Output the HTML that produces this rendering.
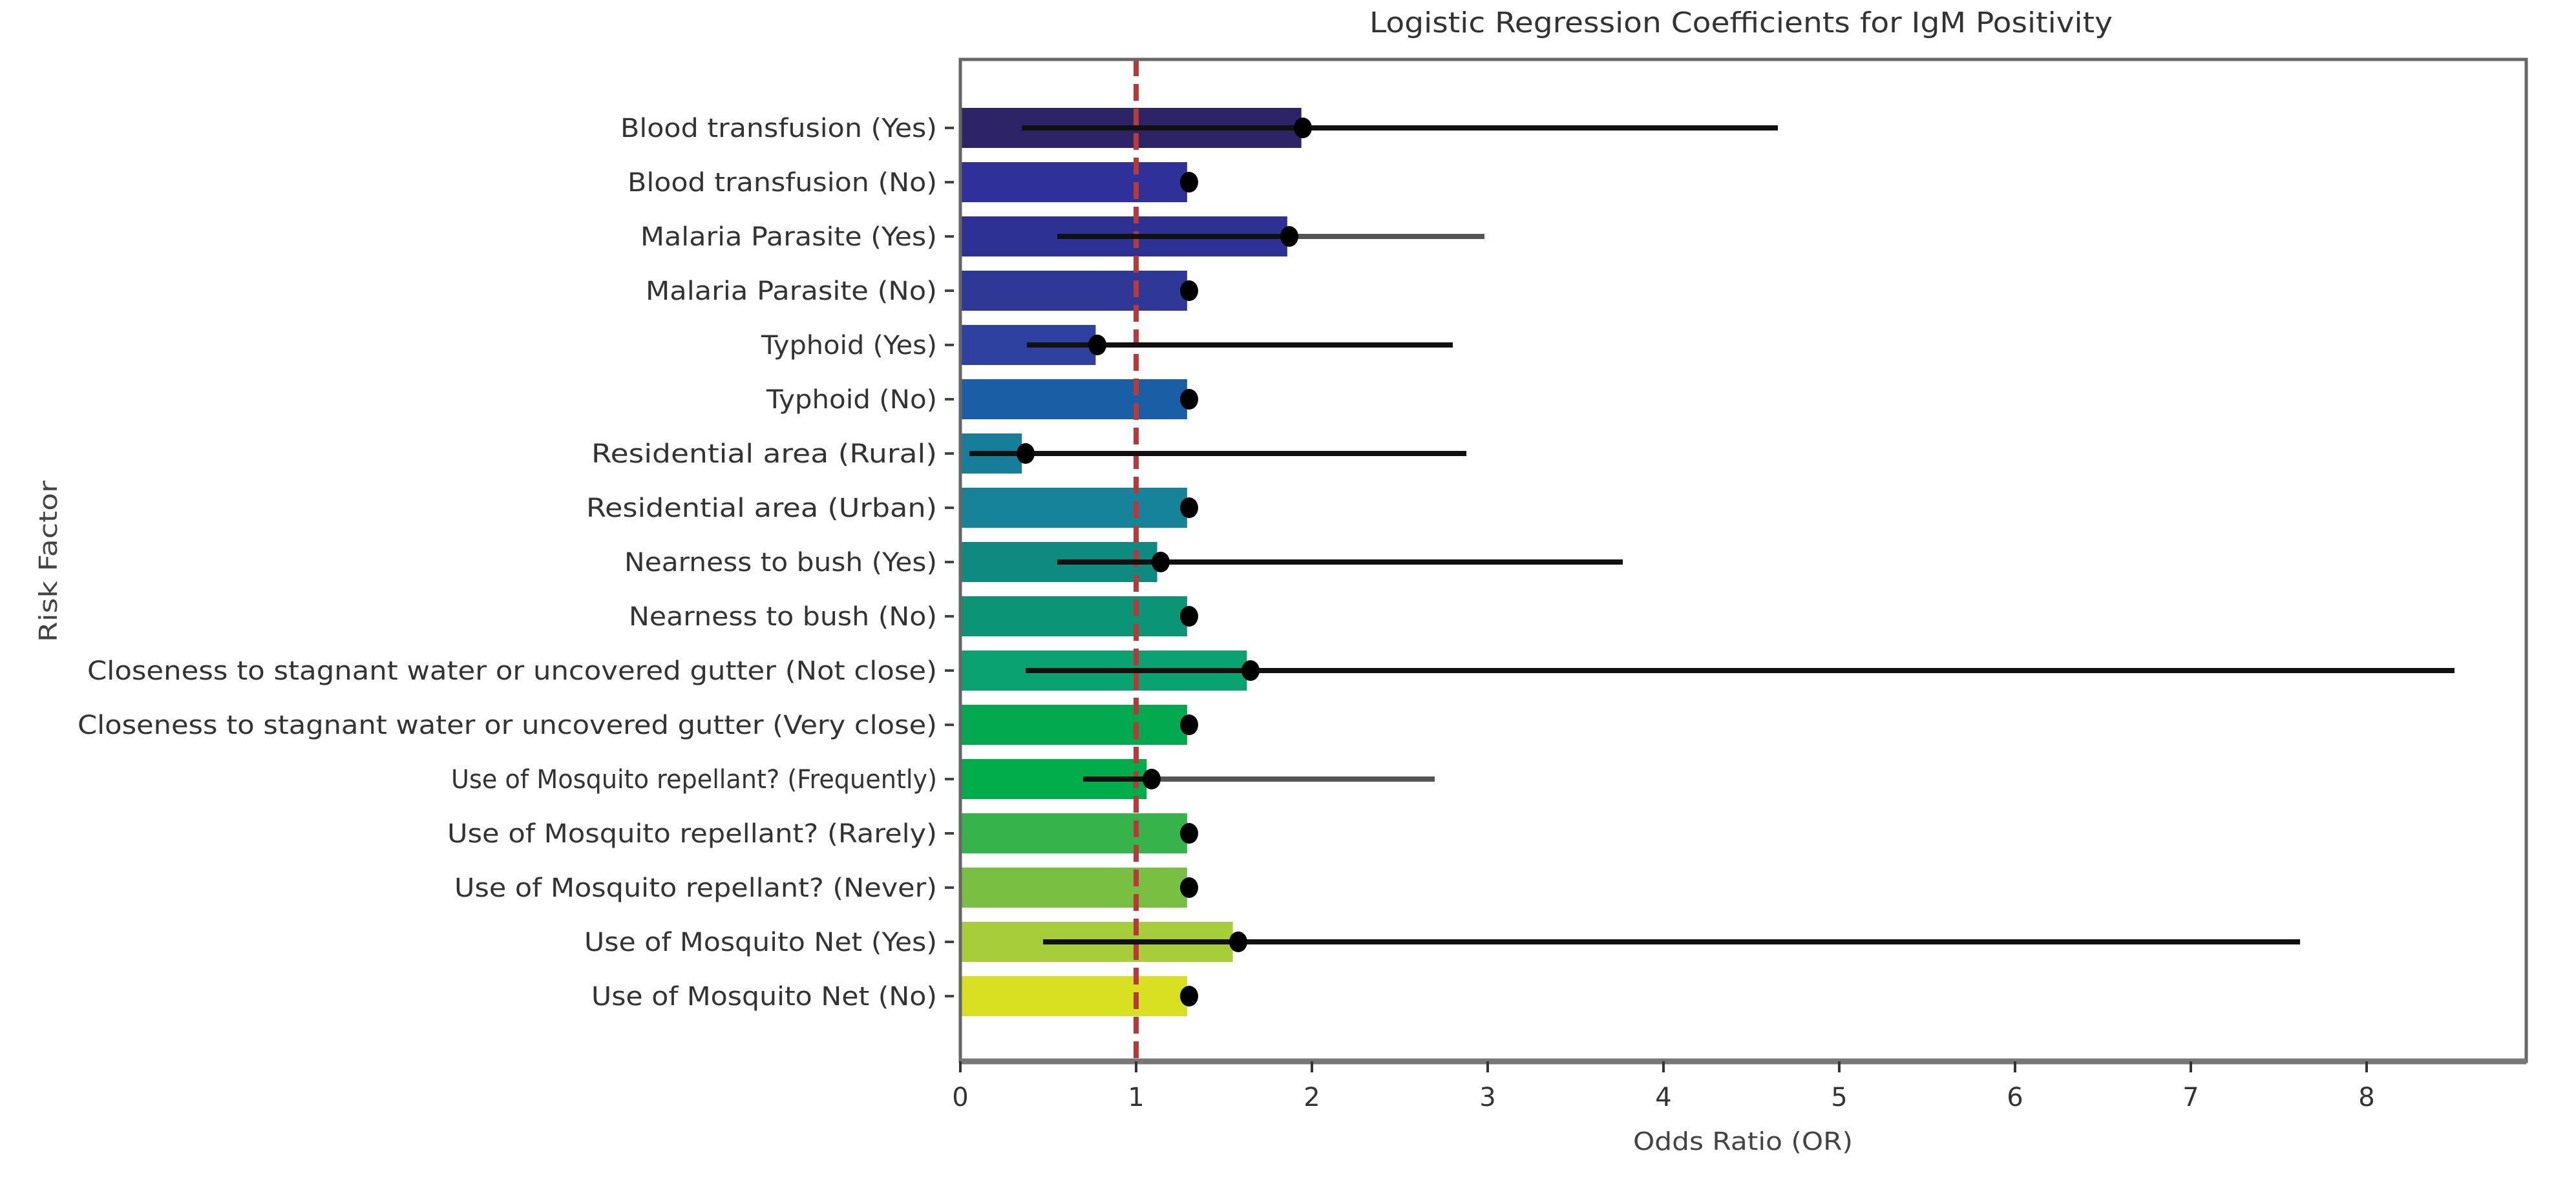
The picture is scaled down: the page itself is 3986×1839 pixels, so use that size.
<!DOCTYPE html>
<html><head><meta charset="utf-8"><style>html,body{margin:0;padding:0;background:#fff}</style></head>
<body>
<svg width="3986" height="1834" viewBox="0 0 3986 1834" xmlns="http://www.w3.org/2000/svg" font-family="'DejaVu Sans','Liberation Sans',sans-serif">
<rect width="3986" height="1834" fill="#fff"/>
<text x="2694" y="50" font-size="44" text-anchor="middle" fill="#333" textLength="1150" lengthAdjust="spacingAndGlyphs">Logistic Regression Coefficients for IgM Positivity</text>
<g>
<rect x="1486" y="167" width="527.7" height="62" fill="#2c2466"/>
<rect x="1486" y="251" width="350.9" height="62" fill="#30309a"/>
<rect x="1486" y="335" width="505.9" height="62" fill="#2e3194"/>
<rect x="1486" y="419" width="350.9" height="62" fill="#2f3797"/>
<rect x="1486" y="503" width="209.4" height="62" fill="#2e41a0"/>
<rect x="1486" y="587" width="350.9" height="62" fill="#1a5fa5"/>
<rect x="1486" y="671" width="95.2" height="62" fill="#177e9a"/>
<rect x="1486" y="755" width="350.9" height="62" fill="#16839a"/>
<rect x="1486" y="839" width="304.6" height="62" fill="#0f8a80"/>
<rect x="1486" y="923" width="350.9" height="62" fill="#0b9475"/>
<rect x="1486" y="1007" width="443.4" height="62" fill="#0aa270"/>
<rect x="1486" y="1091" width="350.9" height="62" fill="#03a94f"/>
<rect x="1486" y="1175" width="288.3" height="62" fill="#00ad4a"/>
<rect x="1486" y="1259" width="350.9" height="62" fill="#36b34a"/>
<rect x="1486" y="1343" width="350.9" height="62" fill="#79c042"/>
<rect x="1486" y="1427" width="421.6" height="62" fill="#a8cd3a"/>
<rect x="1486" y="1511" width="350.9" height="62" fill="#d8e021"/>
</g>
<g font-size="40" text-anchor="end" fill="#333">
<text x="1450" y="212" textLength="490" lengthAdjust="spacingAndGlyphs">Blood transfusion (Yes)</text>
<text x="1450" y="296" textLength="479" lengthAdjust="spacingAndGlyphs">Blood transfusion (No)</text>
<text x="1450" y="380" textLength="459" lengthAdjust="spacingAndGlyphs">Malaria Parasite (Yes)</text>
<text x="1450" y="464" textLength="451" lengthAdjust="spacingAndGlyphs">Malaria Parasite (No)</text>
<text x="1450" y="548" textLength="272" lengthAdjust="spacingAndGlyphs">Typhoid (Yes)</text>
<text x="1450" y="632" textLength="264" lengthAdjust="spacingAndGlyphs">Typhoid (No)</text>
<text x="1450" y="716" textLength="535" lengthAdjust="spacingAndGlyphs">Residential area (Rural)</text>
<text x="1450" y="800" textLength="543" lengthAdjust="spacingAndGlyphs">Residential area (Urban)</text>
<text x="1450" y="884" textLength="484" lengthAdjust="spacingAndGlyphs">Nearness to bush (Yes)</text>
<text x="1450" y="968" textLength="477" lengthAdjust="spacingAndGlyphs">Nearness to bush (No)</text>
<text x="1450" y="1052" textLength="1315" lengthAdjust="spacingAndGlyphs">Closeness to stagnant water or uncovered gutter (Not close)</text>
<text x="1450" y="1136" textLength="1330" lengthAdjust="spacingAndGlyphs">Closeness to stagnant water or uncovered gutter (Very close)</text>
<text x="1450" y="1220" textLength="752" lengthAdjust="spacingAndGlyphs">Use of Mosquito repellant? (Frequently)</text>
<text x="1450" y="1304" textLength="758" lengthAdjust="spacingAndGlyphs">Use of Mosquito repellant? (Rarely)</text>
<text x="1450" y="1388" textLength="747" lengthAdjust="spacingAndGlyphs">Use of Mosquito repellant? (Never)</text>
<text x="1450" y="1472" textLength="546" lengthAdjust="spacingAndGlyphs">Use of Mosquito Net (Yes)</text>
<text x="1450" y="1556" textLength="535" lengthAdjust="spacingAndGlyphs">Use of Mosquito Net (No)</text>
</g>
<g stroke="#444" stroke-width="4">
<line x1="1462" x2="1476" y1="198" y2="198"/><line x1="1462" x2="1476" y1="282" y2="282"/><line x1="1462" x2="1476" y1="366" y2="366"/><line x1="1462" x2="1476" y1="450" y2="450"/><line x1="1462" x2="1476" y1="534" y2="534"/><line x1="1462" x2="1476" y1="618" y2="618"/><line x1="1462" x2="1476" y1="702" y2="702"/><line x1="1462" x2="1476" y1="786" y2="786"/><line x1="1462" x2="1476" y1="870" y2="870"/><line x1="1462" x2="1476" y1="954" y2="954"/><line x1="1462" x2="1476" y1="1038" y2="1038"/><line x1="1462" x2="1476" y1="1122" y2="1122"/><line x1="1462" x2="1476" y1="1206" y2="1206"/><line x1="1462" x2="1476" y1="1290" y2="1290"/><line x1="1462" x2="1476" y1="1374" y2="1374"/><line x1="1462" x2="1476" y1="1458" y2="1458"/><line x1="1462" x2="1476" y1="1542" y2="1542"/>
</g>
<line x1="1758" x2="1758" y1="92" y2="1643" stroke="#b53b3b" stroke-width="8" stroke-dasharray="26,12"/>
<g stroke="#111" stroke-width="8">
<line x1="1581" x2="2751" y1="198" y2="198"/>
<line x1="1636" x2="1995" y1="366" y2="366"/>
<line x1="1995" x2="2297" y1="366" y2="366" stroke="#555"/>
<line x1="1589" x2="2248" y1="534" y2="534"/>
<line x1="1500" x2="2269" y1="702" y2="702"/>
<line x1="1636" x2="2511" y1="870" y2="870"/>
<line x1="1587" x2="3798" y1="1038" y2="1038"/>
<line x1="1676" x2="1782" y1="1206" y2="1206"/>
<line x1="1782" x2="2220" y1="1206" y2="1206" stroke="#555"/>
<line x1="1614" x2="3559" y1="1458" y2="1458"/>
</g>
<g fill="#000">
<ellipse cx="2016" cy="198" rx="14" ry="16"/>
<ellipse cx="1840" cy="282" rx="14" ry="16"/>
<ellipse cx="1995" cy="366" rx="14" ry="16"/>
<ellipse cx="1840" cy="450" rx="14" ry="16"/>
<ellipse cx="1698" cy="534" rx="14" ry="16"/>
<ellipse cx="1840" cy="618" rx="14" ry="16"/>
<ellipse cx="1587" cy="702" rx="14" ry="16"/>
<ellipse cx="1840" cy="786" rx="14" ry="16"/>
<ellipse cx="1796" cy="870" rx="14" ry="16"/>
<ellipse cx="1840" cy="954" rx="14" ry="16"/>
<ellipse cx="1935" cy="1038" rx="14" ry="16"/>
<ellipse cx="1840" cy="1122" rx="14" ry="16"/>
<ellipse cx="1782" cy="1206" rx="14" ry="16"/>
<ellipse cx="1840" cy="1290" rx="14" ry="16"/>
<ellipse cx="1840" cy="1374" rx="14" ry="16"/>
<ellipse cx="1916" cy="1458" rx="14" ry="16"/>
<ellipse cx="1840" cy="1542" rx="14" ry="16"/>
</g>
<rect x="1486" y="92" width="2423" height="1551" fill="none" stroke="#666" stroke-width="5"/>
<line x1="1486" x2="3909" y1="1643" y2="1643" stroke="#777" stroke-width="9"/>
<g stroke="#333" stroke-width="4">
<line x1="1486" x2="1486" y1="1643" y2="1660"/><line x1="1758" x2="1758" y1="1643" y2="1660"/><line x1="2030" x2="2030" y1="1643" y2="1660"/><line x1="2302" x2="2302" y1="1643" y2="1660"/><line x1="2574" x2="2574" y1="1643" y2="1660"/><line x1="2846" x2="2846" y1="1643" y2="1660"/><line x1="3118" x2="3118" y1="1643" y2="1660"/><line x1="3390" x2="3390" y1="1643" y2="1660"/><line x1="3662" x2="3662" y1="1643" y2="1660"/>
</g>
<g font-size="40" text-anchor="middle" fill="#333">
<text x="1486" y="1712">0</text><text x="1758" y="1712">1</text><text x="2030" y="1712">2</text><text x="2302" y="1712">3</text><text x="2574" y="1712">4</text><text x="2846" y="1712">5</text><text x="3118" y="1712">6</text><text x="3390" y="1712">7</text><text x="3662" y="1712">8</text>
</g>
<text x="2697" y="1780" font-size="38" text-anchor="middle" fill="#444" textLength="340" lengthAdjust="spacingAndGlyphs">Odds Ratio (OR)</text>
<text transform="translate(88,869) rotate(-90)" font-size="38" text-anchor="middle" fill="#444" textLength="250" lengthAdjust="spacingAndGlyphs">Risk Factor</text>
</svg>
</body></html>
